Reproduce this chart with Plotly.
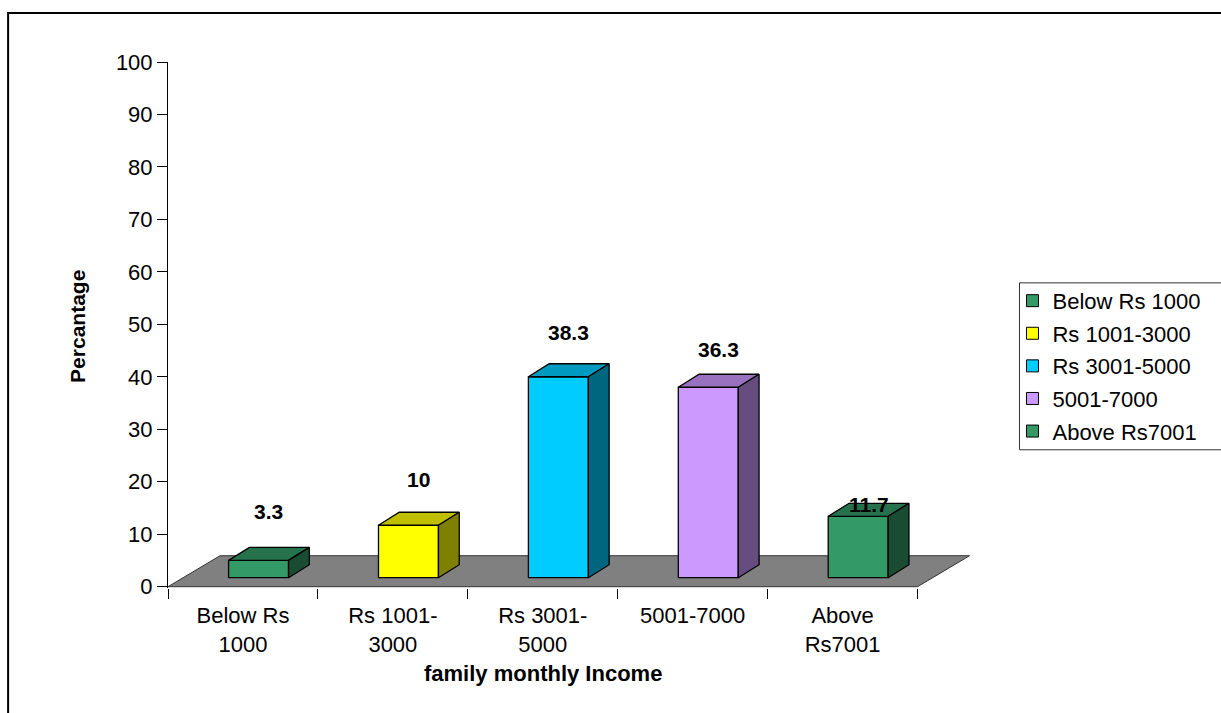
import plotly.graph_objects as go

# ---------------- data ----------------
categories = ["Below Rs 1000", "Rs 1001-3000", "Rs 3001-5000", "5001-7000", "Above Rs7001"]
tick_labels = ["Below Rs<br>1000", "Rs 1001-<br>3000", "Rs 3001-<br>5000", "5001-7000", "Above<br>Rs7001"]
percentages = [3.3, 10, 38.3, 36.3, 11.7]
value_labels = ["3.3", "10", "38.3", "36.3", "11.7"]
y_ticks = [0, 10, 20, 30, 40, 50, 60, 70, 80, 90, 100]

# ---------------- styles / layout ----------------
front_colors = ["#339966", "#FFFF00", "#00CCFF", "#CC99FF", "#339966"]
label_lift = [11.0, 10.4, 10.1, 9.0, 3.9]   # data-label height above each bar (axis units)

FONT = "Arial, Liberation Sans, sans-serif"
FS = 22
W, H = 1221, 713
L, T = 168, 62
X_RANGE = [-0.5, 4.85]
Y_RANGE = [-0.25, 100]
PX_X = 150.0          # pixels per category
PX_Y = 5.25           # pixels per percent
PW = (X_RANGE[1] - X_RANGE[0]) * PX_X
PH = (Y_RANGE[1] - Y_RANGE[0]) * PX_Y
R = W - L - PW
B = H - T - PH

# oblique depth of the floor and the bars (axis units)
floor_dx, floor_dy = 0.347, 5.9
bar_w = 0.40
bar_dx, bar_dy = floor_dx * 0.40, floor_dy * 0.42
off_dx, off_dy = floor_dx * 0.30, floor_dy * 0.29


def shade(hexcol, f):
    h = hexcol.lstrip("#")
    r, g, b = (int(h[i:i + 2], 16) for i in (0, 2, 4))
    return "#%02X%02X%02X" % (int(r * f), int(g * f), int(b * f))


def paper_x(px):
    return (px - L) / PW


def paper_y(py):
    return (H - B - py) / PH


fig = go.Figure()

# floor
n = len(categories)
fx = [X_RANGE[0], n - 0.5, n - 0.5 + floor_dx, X_RANGE[0] + floor_dx, X_RANGE[0]]
fy = [0, 0, floor_dy, floor_dy, 0]
fig.add_trace(go.Scatter(x=fx, y=fy, fill="toself", fillcolor="#808080", mode="lines",
                         line=dict(color="#333333", width=1), showlegend=False, hoverinfo="skip"))

# bars (front, top, side faces)
for i, v in enumerate(percentages):
    c = front_colors[i]
    x0 = i - bar_w / 2 + off_dx
    x1 = i + bar_w / 2 + off_dx
    yb = off_dy
    yt = off_dy + v
    faces = [
        ([x0, x1, x1, x0, x0], [yb, yb, yt, yt, yb], c),
        ([x0, x1, x1 + bar_dx, x0 + bar_dx, x0], [yt, yt, yt + bar_dy, yt + bar_dy, yt], shade(c, 0.75)),
        ([x1, x1 + bar_dx, x1 + bar_dx, x1, x1], [yb, yb + bar_dy, yt + bar_dy, yt, yb], shade(c, 0.5)),
    ]
    for xs, ys, col in faces:
        fig.add_trace(go.Scatter(x=xs, y=ys, fill="toself", fillcolor=col, mode="lines",
                                 line=dict(color="#000000", width=1.3), showlegend=False,
                                 hoverinfo="skip"))
    fig.add_annotation(x=i + off_dx + bar_dx / 2, y=v + label_lift[i], xref="x", yref="y",
                       xanchor="center", yanchor="middle",
                       text="<b>%s</b>" % value_labels[i], showarrow=False,
                       font=dict(family=FONT, size=21, color="#000000"))

# legend entries
for i, name in enumerate(categories):
    fig.add_trace(go.Scatter(x=[None], y=[None], mode="markers", name=name,
                             legendgroup=str(i),
                             marker=dict(symbol="square", size=12, color=front_colors[i],
                                         line=dict(color="#000000", width=1))))

fig.update_layout(
    width=W, height=H,
    margin=dict(l=L, r=R, t=T, b=B, autoexpand=False),
    paper_bgcolor="#FFFFFF", plot_bgcolor="#FFFFFF",
    font=dict(family=FONT, size=FS, color="#000000"),
    showlegend=True,
    legend=dict(x=paper_x(1013), y=paper_y(280), xanchor="left", yanchor="top",
                bgcolor="rgba(0,0,0,0)", borderwidth=0, tracegroupgap=1,
                font=dict(family=FONT, size=FS, color="#000000")),
    xaxis=dict(range=X_RANGE, tickmode="array", tickvals=list(range(n)), ticktext=tick_labels,
               ticks="", showline=False, showgrid=False, zeroline=False, fixedrange=True,
               ticklabelstandoff=12,
               tickfont=dict(family=FONT, size=FS, color="#000000"),
               minor=dict(tickmode="array", tickvals=[k - 0.5 for k in range(n + 1)],
                          ticks="outside", ticklen=10, tickcolor="#000000", tickwidth=1,
                          showgrid=False)),
    yaxis=dict(range=Y_RANGE, tickmode="array", tickvals=y_ticks, ticks="outside", ticklen=10,
               tickcolor="#000000", showline=True, linecolor="#000000", linewidth=1,
               showgrid=False, zeroline=False, fixedrange=True,
               tickfont=dict(family=FONT, size=FS, color="#000000")),
)

# axis titles
fig.add_annotation(x=2, y=paper_y(674), xref="x", yref="paper", xanchor="center", yanchor="middle",
                   text="<b>family monthly Income</b>",
                   showarrow=False, font=dict(family=FONT, size=FS, color="#000000"))
fig.add_annotation(x=paper_x(78), y=paper_y(327), xref="paper", yref="paper",
                   xanchor="center", yanchor="middle",
                   text="<b>Percantage</b>", textangle=-90, showarrow=False,
                   font=dict(family=FONT, size=21, color="#000000"))

# legend frame and outer chart border
fig.add_shape(type="rect", xref="paper", yref="paper",
              x0=paper_x(1020), x1=paper_x(1235), y0=paper_y(450), y1=paper_y(283),
              line=dict(color="#333333", width=1), fillcolor="rgba(0,0,0,0)", layer="below")
fig.add_shape(type="rect", xref="paper", yref="paper",
              x0=paper_x(8), x1=paper_x(1240), y0=paper_y(730), y1=paper_y(13),
              line=dict(color="#000000", width=2), fillcolor="rgba(0,0,0,0)")

fig.write_html("out.html")
